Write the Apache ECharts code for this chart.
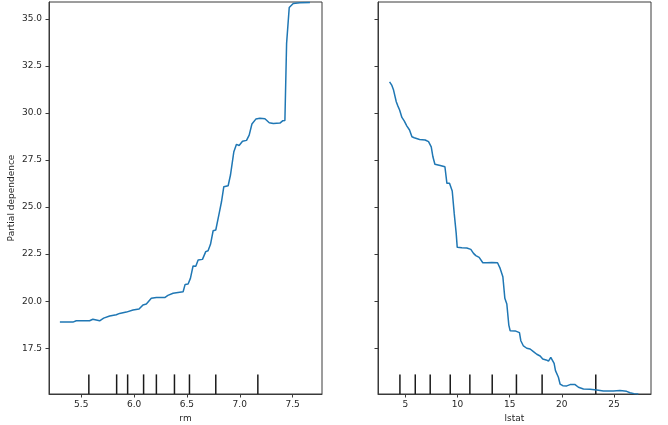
<!DOCTYPE html>
<html>
<head>
<meta charset="utf-8">
<script src="https://cdn.jsdelivr.net/npm/echarts@6/dist/echarts.min.js"></script>
<style>html,body{margin:0;padding:0;background:#fff;}#c{width:668px;height:425px;}</style>
</head>
<body>
<div id="c"></div>
<script>
// Partial dependence for feature "rm"
const rmX  = [5.298,5.421,5.453,5.579,5.61,5.674,5.712,5.769,5.832,5.863,5.927,5.99,6.047,6.084,6.116,6.163,6.211,6.29,6.32,6.369,6.40,6.464,6.483,6.511,6.533,6.558,6.584,6.606,6.647,6.678,6.70,6.723,6.748,6.773,6.805,6.827,6.849,6.89,6.912,6.944,6.969,6.994,7.026,7.064,7.089,7.115,7.152,7.19,7.238,7.279,7.317,7.38,7.405,7.427,7.443,7.468,7.506,7.569,7.664];
const rmPD = [18.89,18.89,18.96,18.96,19.04,18.96,19.10,19.21,19.28,19.35,19.42,19.53,19.58,19.80,19.85,20.15,20.19,20.19,20.31,20.42,20.45,20.50,20.89,20.91,21.21,21.87,21.85,22.19,22.22,22.63,22.68,23.02,23.74,23.78,24.66,25.28,26.08,26.13,26.70,27.94,28.33,28.27,28.49,28.54,28.82,29.41,29.67,29.71,29.69,29.48,29.44,29.46,29.58,29.60,33.69,35.60,35.81,35.85,35.87];
// Partial dependence for feature "lstat"
const lstatX  = [3.50,3.72,3.88,4.14,4.30,4.46,4.68,4.90,5.16,5.41,5.64,5.86,6.37,6.91,7.23,7.49,7.65,7.84,8.35,8.80,8.99,9.24,9.50,9.69,9.88,9.98,10.42,10.90,11.28,11.54,11.76,12.08,12.43,12.81,13.29,13.84,14.09,14.35,14.54,14.73,14.92,15.05,15.53,15.94,16.07,16.32,16.64,16.96,17.28,17.60,17.92,18.17,18.49,18.72,18.94,19.13,19.26,19.39,19.67,19.83,20.09,20.47,20.79,21.27,21.59,22.07,22.70,23.34,23.98,24.94,25.57,26.21,26.53,26.91,27.33];
const lstatPD = [31.65,31.46,31.21,30.59,30.36,30.15,29.76,29.58,29.30,29.09,28.73,28.68,28.59,28.56,28.47,28.20,27.67,27.27,27.21,27.14,26.26,26.26,25.85,24.66,23.60,22.86,22.84,22.82,22.75,22.54,22.42,22.33,22.04,22.04,22.06,22.04,21.74,21.30,20.15,19.85,18.73,18.43,18.42,18.33,17.90,17.62,17.50,17.46,17.32,17.18,17.09,16.93,16.88,16.82,17.02,17.04,16.70,16.31,15.96,15.60,15.51,15.50,15.57,15.57,15.43,15.34,15.32,15.28,15.23,15.23,15.25,15.21,15.14,15.09,15.07];
// Deciles of the feature values
const rmDeciles    = [5.572,5.835,5.939,6.09,6.211,6.382,6.524,6.773,7.171];
const lstatDeciles = [4.49,5.96,7.39,9.31,11.19,13.33,15.65,18.11,23.25];
// Tick labels
const yTicks      = [17.5,20.0,22.5,25.0,27.5,30.0,32.5,35.0];
const rmTicks     = [5.5,6.0,6.5,7.0,7.5];
const lstatTicks  = [5,10,15,20,25];

const Y_MIN = 15.07, Y_MAX = 35.89;
const FONT = 'DejaVu Sans';
const FS = 9;
const TXT = '#262626';
const AX = '#3a3a3a';

function decileSeries(idx, arr){
  return {
    type:'custom', xAxisIndex:idx, yAxisIndex:idx, silent:true,
    data: arr.map(v=>[v, Y_MIN]),
    renderItem:(params, api)=>{
      const x = api.value(0);
      const p0 = api.coord([x, Y_MIN]);
      const p1 = api.coord([x, Y_MIN + 0.05*(Y_MAX-Y_MIN)]);
      return {type:'line', shape:{x1:p0[0],y1:p0[1],x2:p1[0],y2:p1[1]}, style:{stroke:'#1a1a1a', lineWidth:1.5}};
    }
  };
}
function xAxis(idx, min, max, ticks, name, fmt){
  return {
    type:'value', gridIndex:idx, min:min, max:max, name:name,
    nameLocation:'middle', nameGap:18,
    nameTextStyle:{fontFamily:FONT, fontSize:FS, color:TXT},
    axisLine:{show:true, lineStyle:{color:AX, width:1}},
    axisTick:{show:true, length:3.5, customValues:ticks, lineStyle:{color:AX}},
    axisLabel:{show:true, margin:6, customValues:ticks, fontFamily:FONT, fontSize:FS, color:TXT, formatter:fmt},
    splitLine:{show:false}
  };
}
function yAxis(idx, showLabels){
  return {
    type:'value', gridIndex:idx, min:Y_MIN, max:Y_MAX,
    name: showLabels ? 'Partial dependence' : '',
    nameLocation:'middle', nameGap:33,
    nameTextStyle:{fontFamily:FONT, fontSize:FS, color:TXT},
    axisLine:{show:true, lineStyle:{color:AX, width:1}},
    axisTick:{show:true, length:3.5, customValues:yTicks, lineStyle:{color:AX}},
    axisLabel:{show:showLabels, margin:7, customValues:yTicks, fontFamily:FONT, fontSize:FS, color:TXT, formatter:v=>v.toFixed(1)},
    splitLine:{show:false}
  };
}

const chart = echarts.init(document.getElementById('c'), null, {renderer:'canvas'});
chart.setOption({
  animation:false,
  backgroundColor:'#fff',
  grid:[
    {left:49, right:346, top:2, bottom:31, show:true, borderColor:AX, borderWidth:1, containLabel:false, outerBoundsMode:'none'},
    {left:378, right:17, top:2, bottom:31, show:true, borderColor:AX, borderWidth:1, containLabel:false, outerBoundsMode:'none'}
  ],
  xAxis:[
    xAxis(0, 5.195, 7.778, rmTicks, 'rm', v=>v.toFixed(1)),
    xAxis(1, 2.39, 28.54, lstatTicks, 'lstat', v=>String(v))
  ],
  yAxis:[ yAxis(0, true), yAxis(1, false) ],
  series:[
    {type:'line', xAxisIndex:0, yAxisIndex:0, data:rmX.map((x,i)=>[x, rmPD[i]]), showSymbol:false, lineStyle:{color:'#1f77b4', width:1.5}, smooth:false, clip:true},
    {type:'line', xAxisIndex:1, yAxisIndex:1, data:lstatX.map((x,i)=>[x, lstatPD[i]]), showSymbol:false, lineStyle:{color:'#1f77b4', width:1.5}, smooth:false, clip:true},
    decileSeries(0, rmDeciles),
    decileSeries(1, lstatDeciles)
  ]
});
</script>
</body>
</html>
